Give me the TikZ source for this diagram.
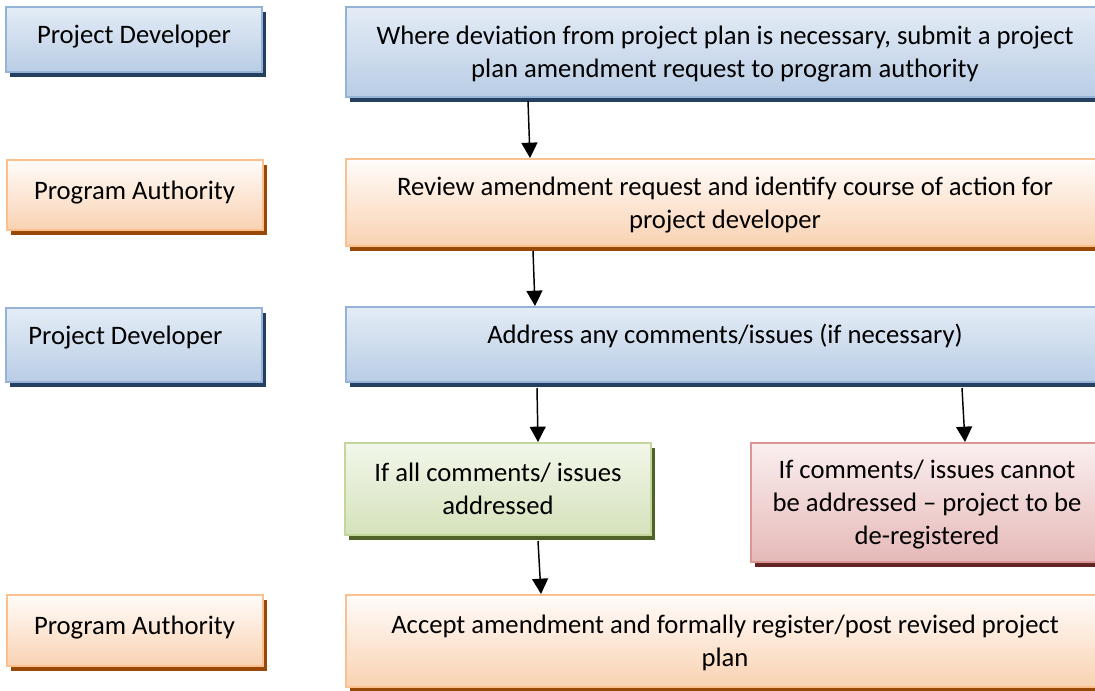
\documentclass[tikz,border=0pt]{standalone}
\usepackage{fontspec}
\setmainfont{Carlito}
\usetikzlibrary{arrows.meta}
\usetikzlibrary{calc,shadows}

\definecolor{pdline}{HTML}{95B3D7}
\definecolor{pdtop}{HTML}{E4ECF6}
\definecolor{pdbot}{HTML}{B9CDE5}
\definecolor{pdshade}{HTML}{243F60}
\definecolor{paline}{HTML}{FAC090}
\definecolor{patop}{HTML}{FFFCFA}
\definecolor{pabot}{HTML}{F9D2B2}
\definecolor{pashade}{HTML}{984807}
\definecolor{okline}{HTML}{C3D69B}
\definecolor{oktop}{HTML}{F2F7EA}
\definecolor{okbot}{HTML}{D5E2BB}
\definecolor{okshade}{HTML}{4F6228}
\definecolor{noline}{HTML}{D99694}
\definecolor{notop}{HTML}{FBEFEF}
\definecolor{nobot}{HTML}{E5B9B8}
\definecolor{noshade}{HTML}{632523}

\tikzset{
  box/.style={rectangle, line width=1.5pt, align=center, inner sep=0pt,
    font=\fontsize{20}{24.75}\selectfont},
  lift/.style={text depth=#1},
  devbox/.style={box, draw=pdline, top color=pdtop, bottom color=pdbot,
    general shadow={fill=pdshade, shadow xshift=3pt, shadow yshift=-3.75pt}},
  authbox/.style={box, draw=paline, top color=patop, bottom color=pabot,
    general shadow={fill=pashade, shadow xshift=3pt, shadow yshift=-3.75pt}},
  okbox/.style={box, draw=okline, top color=oktop, bottom color=okbot,
    general shadow={fill=okshade, shadow xshift=3pt, shadow yshift=-3.75pt}},
  nobox/.style={box, draw=noline, top color=notop, bottom color=nobot,
    general shadow={fill=noshade, shadow xshift=3pt, shadow yshift=-3.75pt}},
  flow/.style={line width=1.1pt, -{Triangle[width=12pt,length=11.5pt]}}
}

\begin{document}
\begin{tikzpicture}[x=0.75pt,y=-0.75pt]
 \useasboundingbox (0,0) rectangle (1095,691);

 % who does it
 \node[devbox, lift=8.5pt, minimum width=192pt, minimum height=48.75pt] (dev1) at (134,39.5) {Project Developer};
 \node[authbox, lift=7pt, minimum width=192pt, minimum height=52.5pt] (auth1) at (134.5,195) {Program Authority};
 \node[devbox, lift=14.5pt, minimum width=192pt, minimum height=55.5pt] (dev2) at (134,345) {Project Developer\hspace*{13pt}};
 \node[authbox, lift=8.5pt, minimum width=192pt, minimum height=53.25pt] (auth2) at (134.5,630.5) {Program Authority};

 % what is done
 \node[devbox, lift=0pt, minimum width=568.5pt, minimum height=67.5pt] (submit) at (725,52)
   {Where deviation from project plan is necessary, submit a project\\ plan amendment request to program authority};
 \node[authbox, lift=-4pt, minimum width=568.5pt, minimum height=65.25pt] (review) at (725,202.5)
   {Review amendment request and identify course of action for\\ project developer};
 \node[devbox, lift=15.5pt, minimum width=568.5pt, minimum height=56.25pt] (address) at (725,344.5)
   {Address any comments/issues (if necessary)};
 \node[okbox, minimum width=229.5pt, minimum height=69pt] (solved) at (498,489)
   {If all comments/ issues\\ addressed};
 \node[nobox, lift=-1.5pt, minimum width=264pt, minimum height=89.25pt] (dropped) at (927,502.5)
   {If comments/ issues cannot\\ be addressed -- project to be\\ de-registered};
 \node[authbox, lift=0pt, minimum width=568.5pt, minimum height=69pt] (accept) at (725,641)
   {Accept amendment and formally register/post revised project\\ plan};

 \draw[flow] ($(submit.south)+(-197,3)$) -- ($(review.north)+(-195,0)$);
 \draw[flow] ($(review.south)+(-192,4)$) -- ($(address.north)+(-190,0)$);
 \draw[flow] ($(address.south)+(-188,5)$) -- ($(solved.north)+(40,0)$);
 \draw[flow] ($(address.south)+(237,5)$) -- ($(dropped.north)+(38,0)$);
 \draw[flow] ($(solved.south)+(40,5)$) -- ($(accept.north)+(-184,0)$);
\end{tikzpicture}
\end{document}
